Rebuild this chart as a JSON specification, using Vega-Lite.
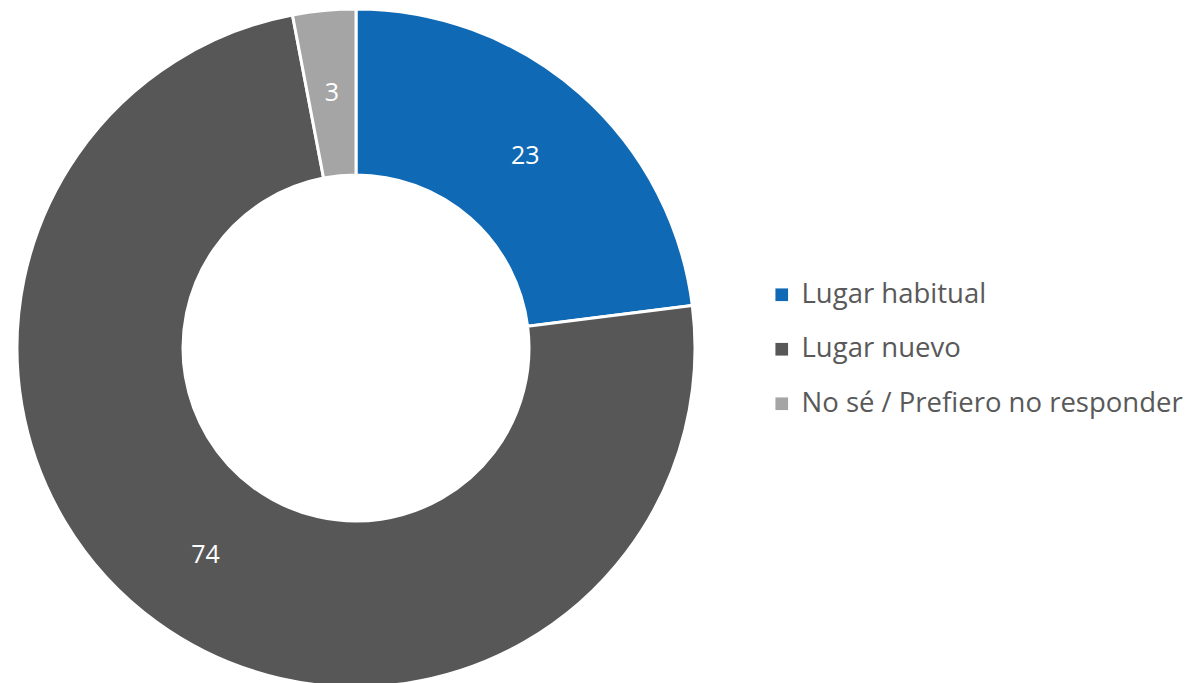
{
  "$schema": "https://vega.github.io/schema/vega-lite/v6.json",
  "width": 712,
  "height": 696,
  "padding": 0,
  "background": "white",
  "config": {"view": {"stroke": null}, "font": "Open Sans"},
  "data": {"values": [
    {"cat": "Lugar habitual", "val": 23, "ord": 1},
    {"cat": "Lugar nuevo", "val": 74, "ord": 2},
    {"cat": "No sé / Prefiero no responder", "val": 3, "ord": 3}
  ]},
  "encoding": {
    "theta": {"field": "val", "type": "quantitative", "stack": true},
    "order": {"field": "ord", "type": "quantitative"}
  },
  "layer": [
    {
      "mark": {"type": "arc", "outerRadius": 339, "innerRadius": 173, "stroke": "white", "strokeWidth": 3},
      "encoding": {
        "color": {
          "field": "cat", "type": "nominal",
          "scale": {"domain": ["Lugar habitual", "Lugar nuevo", "No sé / Prefiero no responder"], "range": ["#0F69B4", "#575757", "#A5A5A5"]},
          "legend": {
            "title": null, "orient": "none", "legendX": 768, "legendY": 281,
            "symbolType": "square", "symbolSize": 160, "labelFontSize": 27.5,
            "labelColor": "#595959", "labelFont": "Open Sans", "rowPadding": 25.5,
            "labelOffset": 6, "symbolStrokeWidth": 0, "labelLimit": 0
          }
        }
      }
    },
    {
      "mark": {"type": "text", "radius": 256, "fontSize": 25, "fill": "white", "font": "Open Sans"},
      "encoding": {"text": {"field": "val", "type": "quantitative"}}
    }
  ]
}
